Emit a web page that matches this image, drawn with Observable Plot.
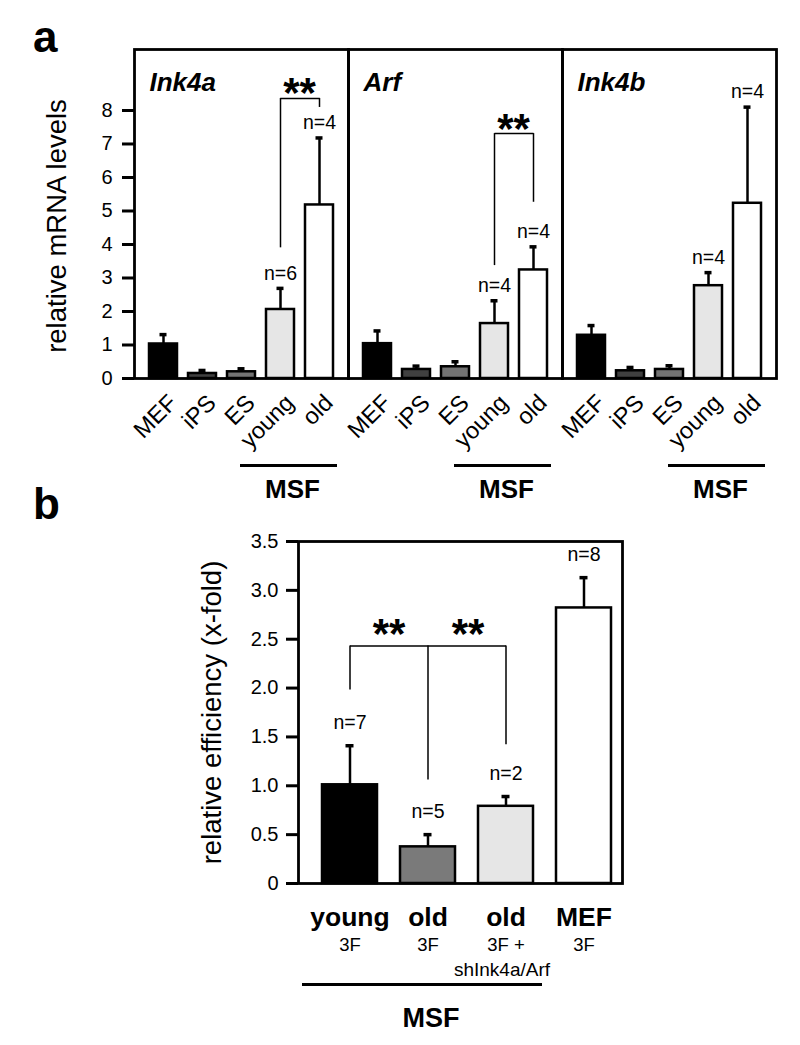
<!DOCTYPE html>
<html><head><meta charset="utf-8">
<script src="https://cdn.jsdelivr.net/npm/d3@7"></script>
<script src="https://cdn.jsdelivr.net/npm/@observablehq/plot@0.6"></script>
<style>
body{margin:0;background:#fff;}
#wrap{position:relative;width:800px;height:1045px;font-family:"Liberation Sans",Arial,sans-serif;overflow:hidden;}
.letter{position:absolute;font-weight:bold;font-size:44px;line-height:1;}
#pa{position:absolute;left:0;top:0;}
#pb{position:absolute;left:0;top:510px;}
svg{overflow:visible;}
</style></head><body>
<div id="wrap">
<div id="pa"></div><div id="pb"></div>
<div class="letter" style="left:33px;top:15px">a</div>
<div class="letter" style="left:33px;top:482px">b</div>
</div>
<script>
const FONT = '"Liberation Sans", Arial, sans-serif';

// ---- Panel a data ----
const genes = ["Ink4a", "Arf", "Ink4b"];
const cells = ["MEF", "iPS", "ES", "young", "old"];
const cellColors = ["#000000", "#404040", "#737373", "#e6e6e6", "#ffffff"];
const ink4aMean = [1.03, 0.15, 0.20, 2.06, 5.18];
const ink4aErr  = [1.31, 0.24, 0.29, 2.69, 7.18];
const arfMean   = [1.04, 0.27, 0.35, 1.64, 3.24];
const arfErr    = [1.42, 0.37, 0.50, 2.32, 3.93];
const ink4bMean = [1.29, 0.23, 0.27, 2.77, 5.23];
const ink4bErr  = [1.58, 0.33, 0.38, 3.16, 8.10];
const ink4aN = ["", "", "", "n=6", "n=4"];
const arfN   = ["", "", "", "n=4", "n=4"];
const ink4bN = ["", "", "", "n=4", "n=4"];
const yTicksA = [0, 1, 2, 3, 4, 5, 6, 7, 8];
const yLabelA = "relative mRNA levels";
const msfGroupA = ["young", "old"];
// significance brackets: gene, bracket level, leg ends
const bracketGenes = ["Ink4a", "Arf"];
const bracketTop = [8.36, 7.31];
const bracketLeftEnd = [3.90, 3.37];
const bracketRightEnd = [8.09, 5.26];

// ---- Panel b data ----
const keysB = ["young 3F", "old 3F", "old 3F + shInk4a/Arf", "MEF 3F"];
const namesB = ["young", "old", "old", "MEF"];
const subB = ["3F", "3F", "3F +", "3F"];
const sub2B = ["", "", "shInk4a/Arf", ""];
const meanB = [1.01, 0.375, 0.79, 2.82];
const errB  = [1.41, 0.50, 0.89, 3.13];
const nB = ["n=7", "n=5", "n=2", "n=8"];
const colorsB = ["#000000", "#7a7a7a", "#e6e6e6", "#ffffff"];
const yTicksB = [0, 0.5, 1, 1.5, 2, 2.5, 3, 3.5];
const yLabelB = "relative efficiency (x-fold)";
const bracketB = {top: 2.43, legs: ["young 3F", "old 3F", "old 3F + shInk4a/Arf"], ends: [1.98, 1.06, 1.42]};

// ---- build tables ----
const meansA = [ink4aMean, arfMean, ink4bMean];
const errsA = [ink4aErr, arfErr, ink4bErr];
const nsA = [ink4aN, arfN, ink4bN];
const rowsA = [];
genes.forEach((g, gi) => cells.forEach((c, ci) => rowsA.push({gene: g, cell: c, mean: meansA[gi][ci], err: errsA[gi][ci], n: nsA[gi][ci]})));
const legsA = [];
const topsA = [];
bracketGenes.forEach((g, i) => {
  legsA.push({gene: g, cell: msfGroupA[0], y1: bracketTop[i], y2: bracketLeftEnd[i]});
  legsA.push({gene: g, cell: msfGroupA[1], y1: bracketTop[i], y2: bracketRightEnd[i]});
  topsA.push({gene: g, a: msfGroupA[0], b: msfGroupA[1], y: bracketTop[i]});
});

const plotA = Plot.plot({
  width: 800, height: 510,
  marginTop: 49, marginBottom: 132, marginLeft: 134, marginRight: 24,
  style: {fontFamily: FONT, fontSize: "20px", color: "black", background: "transparent"},
  fx: {domain: genes, padding: 0, axis: null},
  x: {domain: cells, paddingInner: 0.29, paddingOuter: 0.35, axis: null},
  y: {domain: [0, 9.82]},
  color: {domain: cells, range: cellColors},
  marks: [
    Plot.barY(rowsA, {fx: "gene", x: "cell", y: "mean", fill: "cell", stroke: "black", strokeWidth: 2.5}),
    Plot.ruleX(rowsA, {fx: "gene", x: "cell", y1: "mean", y2: "err", strokeWidth: 2.5}),
    Plot.tickY(rowsA, {fx: "gene", x: "cell", y: "err", strokeWidth: 3.5, insetLeft: 10.5, insetRight: 10.5}),
    Plot.text(rowsA.filter(d => d.n), {fx: "gene", x: "cell", y: "err", text: "n", dy: -15, fontSize: 19.5}),
    Plot.ruleX(legsA, {fx: "gene", x: "cell", y1: "y1", y2: "y2", strokeWidth: 1.5}),
    Plot.link(topsA, {fx: "gene", x1: "a", x2: "b", y1: "y", y2: "y", strokeWidth: 1.5}),
    Plot.text(topsA, {fx: "gene", x: "b", y: "y", text: () => "**", dx: -20, dy: 9, lineAnchor: "bottom", fontSize: 42, fontWeight: "bold"}),
    Plot.text(genes, {fx: d => d, text: d => d, frameAnchor: "top-left", dx: 15, dy: 23, lineAnchor: "top", fontSize: 26, fontWeight: "bold", fontStyle: "italic"}),
    Plot.frame({strokeWidth: 2.8}),
    Plot.axisY({ticks: yTicksA, tickSize: 12, strokeWidth: 3, tickPadding: 10, fontSize: 20, label: null, facetAnchor: "left"}),
    Plot.text([yLabelA], {fx: () => genes[0], text: d => d, frameAnchor: "left", textAnchor: "middle", rotate: -90, dx: -77, dy: 12, fontSize: 27.5}),
    Plot.text(rowsA, {fx: "gene", x: "cell", text: "cell", frameAnchor: "bottom", textAnchor: "end", lineAnchor: "top", rotate: -45, dx: 3, dy: 14, fontSize: 23.5}),
    Plot.ruleY(genes, {fx: d => d, x1: () => msfGroupA[0], x2: () => msfGroupA[1], y: () => 0, dy: 87, insetLeft: -26, insetRight: -4, strokeWidth: 3}),
    Plot.text(genes, {fx: d => d, x: () => msfGroupA[0], y: () => 0, text: () => "MSF", dx: 12, dy: 119, lineAnchor: "bottom", fontSize: 26, fontWeight: "bold"})
  ]
});
document.getElementById("pa").appendChild(plotA);

// ---- panel b ----
const rowsB = keysB.map((k, i) => ({key: k, name: namesB[i], sub: subB[i], sub2: sub2B[i], mean: meanB[i], err: errB[i], n: nB[i]}));
const legsB = bracketB.legs.map((k, i) => ({key: k, y1: bracketB.top, y2: bracketB.ends[i]}));
const topB = [{a: bracketB.legs[0], b: bracketB.legs[2], y: bracketB.top}];
const starsB = [{key: bracketB.legs[1], y: bracketB.top}];

const plotB = Plot.plot({
  width: 800, height: 535,
  marginTop: 31, marginBottom: 162, marginLeft: 298, marginRight: 178,
  style: {fontFamily: FONT, fontSize: "20px", color: "black", background: "transparent"},
  x: {domain: keysB, paddingInner: 0.3, paddingOuter: 0.22, align: 0.69, axis: null},
  y: {domain: [0, 3.5]},
  color: {domain: keysB, range: colorsB},
  marks: [
    Plot.barY(rowsB, {x: "key", y: "mean", fill: "key", stroke: "black", strokeWidth: 2.5}),
    Plot.ruleX(rowsB, {x: "key", y1: "mean", y2: "err", strokeWidth: 2.5}),
    Plot.tickY(rowsB, {x: "key", y: "err", strokeWidth: 3.5, insetLeft: 23.5, insetRight: 23.5}),
    Plot.text(rowsB, {x: "key", y: "err", text: "n", dy: -23, fontSize: 19.5}),
    Plot.ruleX(legsB, {x: "key", y1: "y1", y2: "y2", strokeWidth: 1.5}),
    Plot.link(topB, {x1: "a", x2: "b", y1: "y", y2: "y", strokeWidth: 1.5}),
    Plot.text(starsB, {x: "key", y: "y", text: () => "**", dx: -39, dy: 2, lineAnchor: "bottom", fontSize: 42, fontWeight: "bold"}),
    Plot.text(starsB, {x: "key", y: "y", text: () => "**", dx: 40, dy: 2, lineAnchor: "bottom", fontSize: 42, fontWeight: "bold"}),
    Plot.frame({strokeWidth: 2.8}),
    Plot.axisY({ticks: yTicksB, tickFormat: d => d === 0 ? "0" : d.toFixed(1), tickSize: 12, strokeWidth: 3, tickPadding: 8, fontSize: 20, label: null}),
    Plot.text([yLabelB], {text: d => d, frameAnchor: "left", textAnchor: "middle", rotate: -90, dx: -86, fontSize: 27.5}),
    Plot.text(rowsB, {x: "key", text: "name", frameAnchor: "bottom", lineAnchor: "bottom", dy: 42, fontSize: 26.5, fontWeight: "bold"}),
    Plot.text(rowsB, {x: "key", text: "sub", frameAnchor: "bottom", lineAnchor: "bottom", dy: 67, fontSize: 18.5}),
    Plot.text(rowsB.filter(d => d.sub2), {x: "key", text: "sub2", frameAnchor: "bottom", lineAnchor: "bottom", dy: 92, dx: -4, fontSize: 19}),
    Plot.ruleY([0], {x1: () => keysB[0], x2: () => keysB[2], y: d => d, dy: 101, insetLeft: -20, insetRight: -9, strokeWidth: 3}),
    Plot.text([0], {x: () => keysB[1], y: d => d, text: () => "MSF", dx: 3, dy: 143, lineAnchor: "bottom", fontSize: 27, fontWeight: "bold"})
  ]
});
document.getElementById("pb").appendChild(plotB);
</script>
</body></html>
